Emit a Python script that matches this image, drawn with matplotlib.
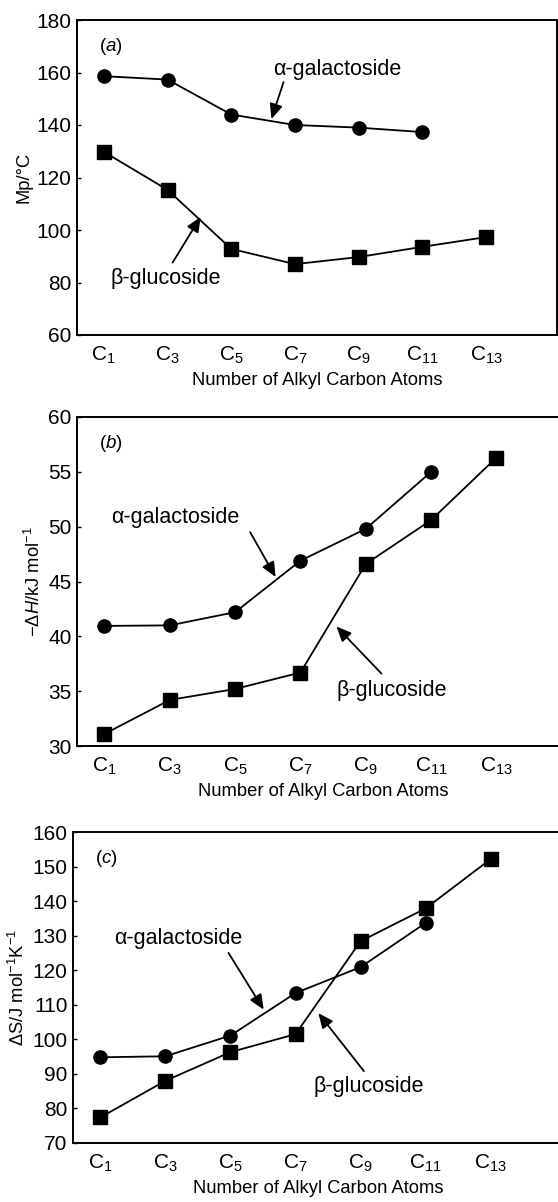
import matplotlib
matplotlib.use("Agg")
import matplotlib.pyplot as plt

plt.rcParams['font.family'] = ['Liberation Sans', 'DejaVu Sans']
plt.rcParams['mathtext.fontset'] = 'custom'
plt.rcParams['mathtext.rm'] = 'Liberation Sans'
plt.rcParams['mathtext.it'] = 'Liberation Sans:italic'
plt.rcParams['mathtext.default'] = 'regular'

# ---- data ----
carbons = ['C$_{1}$', 'C$_{3}$', 'C$_{5}$', 'C$_{7}$', 'C$_{9}$', 'C$_{11}$', 'C$_{13}$']

mp_alpha = [158.6, 157.3, 144.0, 140.0, 139.0, 137.3]
mp_beta = [129.8, 115.3, 92.8, 87.0, 89.7, 93.6, 97.3]

dh_alpha = [40.95, 41.0, 42.2, 46.9, 49.8, 55.0]
dh_beta = [31.1, 34.2, 35.2, 36.7, 46.6, 50.6, 56.3]

ds_alpha = [94.8, 95.1, 101.1, 113.4, 120.9, 133.7]
ds_beta = [77.4, 88.0, 96.3, 101.5, 128.4, 137.9, 152.2]

panels = [
    dict(alpha=mp_alpha, beta=mp_beta, ylim=(60, 180), yticks=[60, 80, 100, 120, 140, 160, 180],
         ylabel='Mp/°C', tag='a',
         rect=[77/558, 1-335/1202, 480/558, 315/1202],
         a_text=(3.66, 161.0), a_from=(2.82, 156.3), a_to=(2.63, 142.3),
         b_text=(0.97, 81.5), b_from=(1.08, 87.6), b_to=(1.52, 105.0)),
    dict(alpha=dh_alpha, beta=dh_beta, ylim=(30, 60), yticks=[30, 35, 40, 45, 50, 55, 60],
         ylabel=r'$-\Delta \mathit{H}$/kJ mol$^{-1}$', tag='b',
         rect=[77/558, 1-746/1202, 492/558, 329/1202],
         a_text=(1.09, 50.85), a_from=(2.23, 49.5), a_to=(2.62, 45.4),
         b_text=(4.40, 35.1), b_from=(4.24, 36.6), b_to=(3.55, 40.9)),
    dict(alpha=ds_alpha, beta=ds_beta, ylim=(70, 160), yticks=[70, 80, 90, 100, 110, 120, 130, 140, 150, 160],
         ylabel=r'$\Delta S$/J mol$^{-1}$K$^{-1}$', tag='c',
         rect=[73/558, 1-1143/1202, 490/558, 311/1202],
         a_text=(1.19, 129.3), a_from=(1.97, 125.0), a_to=(2.51, 108.6),
         b_text=(4.13, 86.4), b_from=(4.05, 90.8), b_to=(3.35, 107.6)),
]

fig = plt.figure(figsize=(5.58, 12.02), dpi=100)

for p in panels:
    ax = fig.add_axes(p['rect'])
    xa = list(range(len(p['alpha'])))
    xb = list(range(len(p['beta'])))
    ax.plot(xa, p['alpha'], color='black', lw=1.3, marker='o', ms=9.5, mfc='black', mec='black', zorder=3)
    ax.plot(xb, p['beta'], color='black', lw=1.3, marker='s', ms=9.5, mfc='black', mec='black', zorder=3)
    ax.set_xlim(-0.42, 7.11)
    ax.set_ylim(*p['ylim'])
    ax.set_yticks(p['yticks'])
    ax.set_xticks(range(len(carbons)))
    ax.set_xticklabels(carbons, fontsize=15)
    ax.tick_params(axis='y', direction='in', length=3, width=1, labelsize=15, pad=4)
    ax.tick_params(axis='x', length=0, pad=7)
    for s in ax.spines.values():
        s.set_linewidth(1.4)
    ax.set_xlabel('Number of Alkyl Carbon Atoms', fontsize=13.2, labelpad=4)
    ax.set_ylabel(p['ylabel'], fontsize=13.2, labelpad=3)
    ax.text(0.045, 0.95, '(' + r'$\mathit{' + p['tag'] + '}$' + ')', transform=ax.transAxes,
            fontsize=13.5, va='top', ha='left')
    ax.text(*p['a_text'], 'α-galactoside', fontsize=15.5, ha='center', va='center')
    ax.text(*p['b_text'], 'β-glucoside', fontsize=15.5, ha='center', va='center')
    for src, dst in [(p['a_from'], p['a_to']), (p['b_from'], p['b_to'])]:
        ax.annotate('', xy=dst, xytext=src,
                    arrowprops=dict(arrowstyle='-|>,head_length=0.5,head_width=0.22', color='black', lw=1.3,
                                    mutation_scale=18, shrinkA=0, shrinkB=0))

fig.savefig('out.png', dpi=100)
